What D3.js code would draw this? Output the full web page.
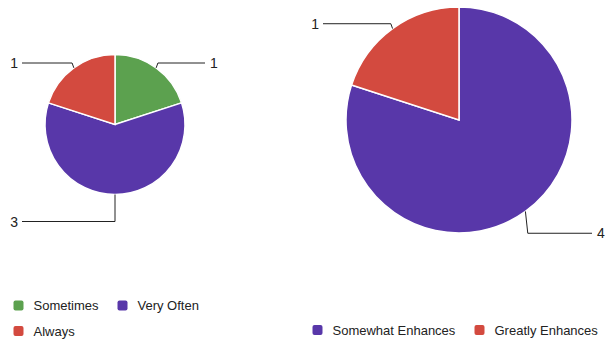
<!DOCTYPE html>
<html>
<head>
<meta charset="utf-8">
<script src="https://d3js.org/d3.v7.min.js"></script>
<style>
  body { margin: 0; background: #fff; }
  svg { display: block; font-family: "Liberation Sans", Arial, sans-serif; }
  .lbl { font-size: 13px; fill: #222; }
  .val { font-size: 14px; fill: #222; }
  .lead { fill: none; stroke: #222; stroke-width: 1px; }
</style>
</head>
<body>
<svg id="chart" width="605" height="339"></svg>
<script>
// left pie: how often
var freqCategories = ["Sometimes", "Very Often", "Always"];
var freqValues = [1, 3, 1];
// right pie: enhancement
var enhCategories = ["Somewhat Enhances", "Greatly Enhances"];
var enhValues = [4, 1];

var colors = {
  "Sometimes": "#5ca14f",
  "Very Often": "#5837a9",
  "Always": "#d34a3f",
  "Somewhat Enhances": "#5837a9",
  "Greatly Enhances": "#d34a3f"
};

var svg = d3.select("#chart");

function drawPie(cats, vals, cx, cy, r) {
  var data = cats.map(function(c, i) { return { name: c, value: vals[i] }; });
  var pie = d3.pie().sort(null).value(function(d) { return d.value; });
  var arc = d3.arc().innerRadius(0).outerRadius(r);
  var arcs = pie(data);

  var g = svg.append("g").attr("transform", "translate(" + cx + "," + cy + ")");

  g.selectAll("path.slice")
    .data(arcs)
    .enter()
    .append("path")
    .attr("class", "slice")
    .attr("d", arc)
    .attr("fill", function(d) { return colors[d.data.name]; })
    .attr("stroke", "#fff")
    .attr("stroke-width", 1.5);

  // leader lines + value labels
  arcs.forEach(function(d) {
    var a = (d.startAngle + d.endAngle) / 2;
    var sx = Math.sin(a), cy0 = -Math.cos(a);
    var px = sx * r, py = cy0 * r;
    var ext = cy0 < 0 ? 6 : 27;     // lower labels get a longer drop
    var ly = cy0 * (r + ext);
    var ex = px + sx * (cy0 < 0 ? 3 : 4);
    var right = sx > 0.001;
    var hx = right ? r + 20 : -r - 23;
    g.append("path")
      .attr("class", "lead")
      .attr("d", "M" + px + "," + py + "L" + ex + "," + ly + "L" + hx + "," + ly);
    g.append("text")
      .attr("class", "val")
      .attr("x", right ? hx + 5 : hx - 4)
      .attr("y", ly)
      .attr("dy", "0.36em")
      .attr("text-anchor", right ? "start" : "end")
      .text(d.data.value);
  });
}

drawPie(freqCategories, freqValues, 115, 124.5, 70);
drawPie(enhCategories, enhValues, 459, 120, 113);

// legends
function legend(items, x0, y0) {
  var g = svg.append("g");
  items.forEach(function(name, i) {
    var x = x0[i], y = y0[i];
    g.append("rect")
      .attr("x", x).attr("y", y - 5)
      .attr("width", 10).attr("height", 10)
      .attr("rx", 2)
      .attr("fill", colors[name]);
    g.append("text")
      .attr("class", "lbl")
      .attr("x", x + 20).attr("y", y)
      .attr("dy", "0.35em")
      .text(name);
  });
}

legend(freqCategories, [13.5, 117.5, 13.5], [305.5, 305.5, 331]);
legend(enhCategories, [312.5, 474.5], [330, 330]);
</script>
</body>
</html>
